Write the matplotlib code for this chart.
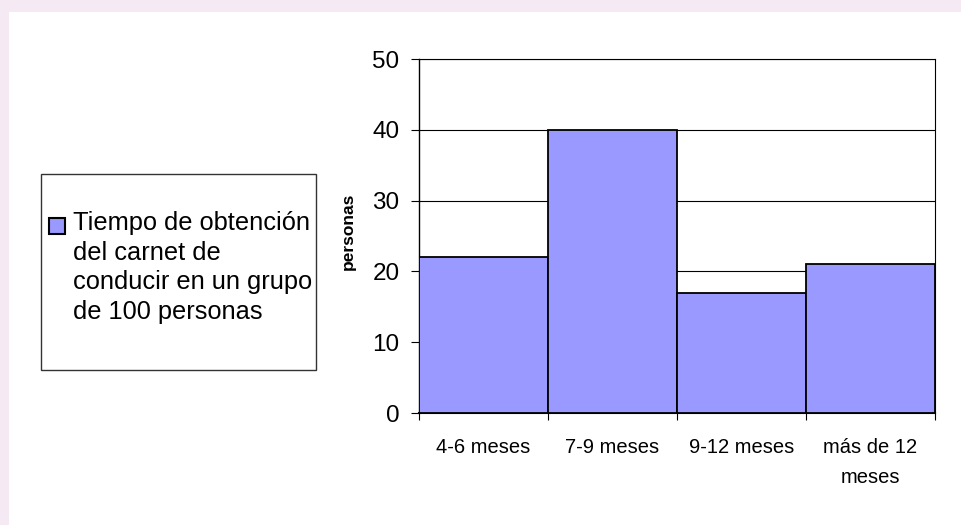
import matplotlib
matplotlib.use("Agg")
import matplotlib.pyplot as plt
from matplotlib.patches import Rectangle
import numpy as np

plt.rcParams['font.family'] = ['Liberation Sans', 'DejaVu Sans']

# Data
categories = ["4-6 meses", "7-9 meses", "9-12 meses", "más de 12\nmeses"]
personas = [22, 40, 17, 21]
series_name = "Tiempo de obtención\ndel carnet de\nconducir en un grupo\nde 100 personas"
y_ticks = [0, 10, 20, 30, 40, 50]
y_label = "personas"

W, H = 962, 525
fig = plt.figure(figsize=(W / 100, H / 100), dpi=100)
fig.patch.set_facecolor("white")

# soft pink border strips along the top and left edges
fig.patches.append(Rectangle((0, 1 - 12 / H), 1, 12 / H, transform=fig.transFigure,
                             facecolor="#F5EAF3", edgecolor="none", zorder=0))
fig.patches.append(Rectangle((0, 0), 9 / W, 1, transform=fig.transFigure,
                             facecolor="#F5EAF3", edgecolor="none", zorder=0))

ax = fig.add_axes([419 / W, (H - 413) / H, (935 - 419) / W, (413 - 59) / H])

x = np.arange(len(categories))
ax.bar(x, personas, width=1.0, color="#9999FF", edgecolor="black", linewidth=1.3, zorder=3)

ax.set_xlim(-0.5, len(categories) - 0.5)
ax.set_ylim(0, 50)
ax.set_yticks(y_ticks)
ax.set_yticklabels([str(v) for v in y_ticks], fontsize=17.5)
ax.tick_params(axis='y', length=6, width=0.8, pad=8, colors='black')

# boundary ticks below the axis, category labels centred between them
ax.set_xticks(np.arange(len(categories) + 1) - 0.5)
ax.set_xticklabels([])
ax.tick_params(axis='x', which='major', length=5, width=0.8)
ax.set_xticks(x, minor=True)
ax.set_xticklabels(categories, minor=True, fontsize=14.5, linespacing=1.75)
ax.tick_params(axis='x', which='minor', length=0, pad=18)

ax.yaxis.grid(True, color="black", linewidth=0.8, zorder=0)
ax.set_axisbelow(True)
for s in ax.spines.values():
    s.set_color("black")
    s.set_linewidth(0.8)
ax.spines['left'].set_linewidth(1.0)
ax.spines['bottom'].set_linewidth(1.5)

ax.set_ylabel(y_label, fontsize=12.5, fontweight='bold')
ax.yaxis.set_label_coords(-0.122, 0.514)

# legend box
fig.patches.append(Rectangle((41 / W, 1 - 370 / H), (316 - 41) / W, (370 - 174) / H,
                             transform=fig.transFigure, facecolor="white",
                             edgecolor="#333333", linewidth=1.0, zorder=1))
fig.patches.append(Rectangle((49 / W, 1 - 234 / H), 16 / W, 16 / H,
                             transform=fig.transFigure, facecolor="#9999FF",
                             edgecolor="black", linewidth=1.5, zorder=2))
fig.text(73 / W, 1 - 211 / H, series_name, fontsize=18.3, ha='left', va='top',
         linespacing=1.3, zorder=3)

fig.savefig("out.png", dpi=100)
